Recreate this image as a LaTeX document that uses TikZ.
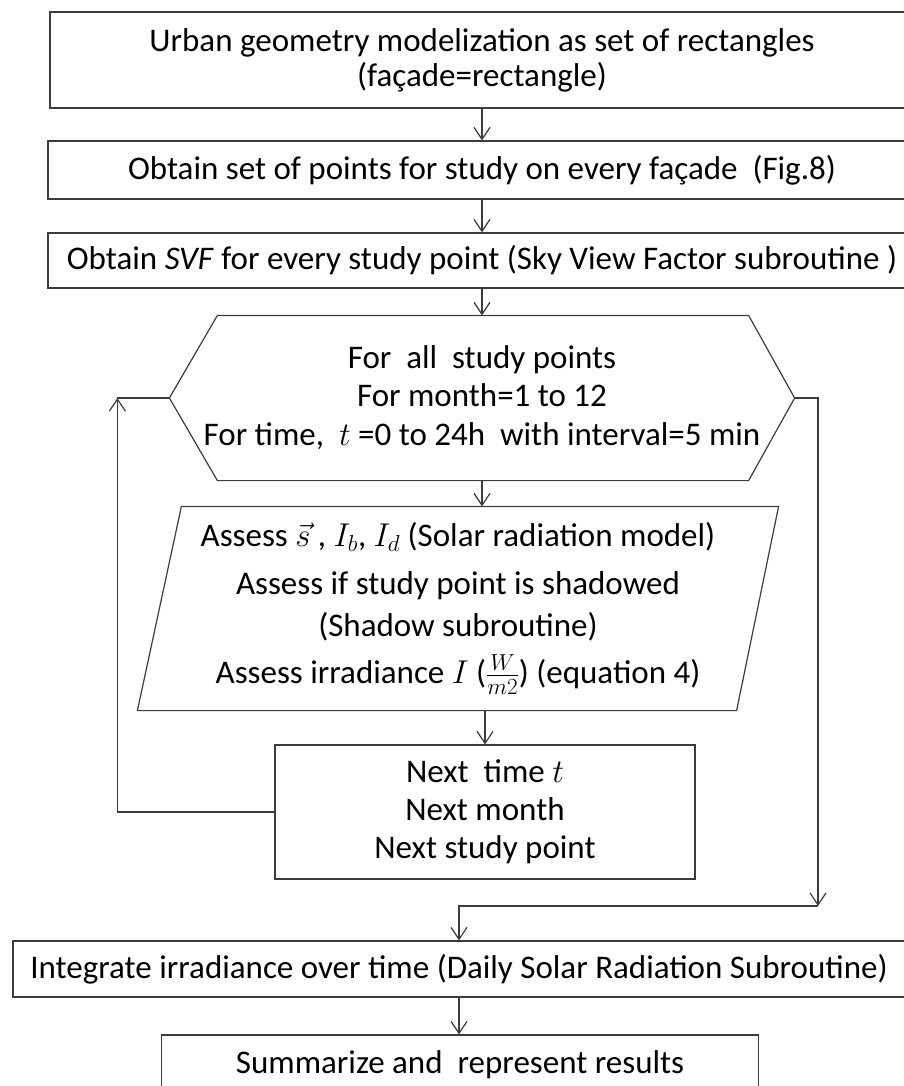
\RequirePackage{fix-cm}
\documentclass[tikz,border=0pt]{standalone}
\usepackage{fontspec}
\setmainfont{Carlito}
\usetikzlibrary{arrows.meta}

\definecolor{linegray}{HTML}{3C3C3C}

\begin{document}
\begin{tikzpicture}[x=1pt, y=-1pt, line width=1.2pt,
  every node/.style={font=\fontsize{33}{37}\selectfont, inner sep=0pt, align=center},
  box/.style={draw=linegray},
  flow/.style={draw=linegray, -{Straight Barb[length=12pt,width=16pt]}}]

% the page
\useasboundingbox (0,0) rectangle (903,1086);

% first steps
\node[box, minimum width=864, minimum height=96] (geom) at (482,60)
  {Urban geometry modelization as set of rectangles\\[-2pt](façade=rectangle)};
\node[box, minimum width=868, minimum height=58] (points) at (482,170)
  {Obtain set of points for study on every façade~ (Fig.8)};
\node[box, minimum width=868, minimum height=55] (svf) at (482,260.5)
  {Obtain \textit{SVF} for every study point (Sky View Factor subroutine )};

% the loop
\node[minimum width=624, minimum height=164] (loop) at (482,398)
  {For~ all~ study points\\[1pt]For month=1 to 12\\[2pt]For time,~ $t$ =0 to 24h~ with interval=5 min};
\draw[linegray] (loop.west) -- ([xshift=48pt]loop.north west) -- ([xshift=-46pt]loop.north east)
  -- (loop.east) -- ([xshift=-46pt]loop.south east) -- ([xshift=48pt]loop.south west) -- cycle;

% what is done at each step
\node[minimum width=640, minimum height=203] (assess) at (458,608.5)
  {Assess $\vec{s}$ , $I_b$, $I_d$ (Solar radiation model)\\[11pt]
   Assess if study point is shadowed\\[5pt]
   (Shadow subroutine)\\[10pt]
   Assess irradiance $I$ ($\frac{W}{m2}$) (equation 4)};
\draw[linegray] ([xshift=44pt]assess.north west) -- (assess.north east)
  -- ([xshift=-42pt]assess.south east) -- (assess.south west) -- cycle;

\node[box, minimum width=420, minimum height=134] (next) at (485,812)
  {Next~ time $t$\\[1pt]Next month\\[1pt]Next study point};

% last steps
\node[box, minimum width=892, minimum height=56] (integ) at (459,969)
  {Integrate irradiance over time (Daily Solar Radiation Subroutine)};
\node[box, minimum width=597, minimum height=60] (summ) at (460,1065)
  {Summarize and~ represent results};

% arrows
\draw[flow] (geom.south) -- (points.north);
\draw[flow] (points.south) -- (svf.north);
\draw[flow] (svf.south) -- (loop.north);
\draw[flow] (loop.south) -- (loop.south |- assess.north);
\draw[flow] (next.north |- assess.south) -- (next.north);
\draw[flow] (next.west) -| ([xshift=-52pt]loop.west);
\draw[linegray] ([xshift=-52pt]loop.west) -- (loop.west);
\coordinate (merge) at (818,906);
\draw[flow] (loop.east) -| (merge);
\draw[flow] (merge) -| (integ.north);
\draw[flow] (integ.south) -- (integ.south |- summ.north);

\end{tikzpicture}
\end{document}
